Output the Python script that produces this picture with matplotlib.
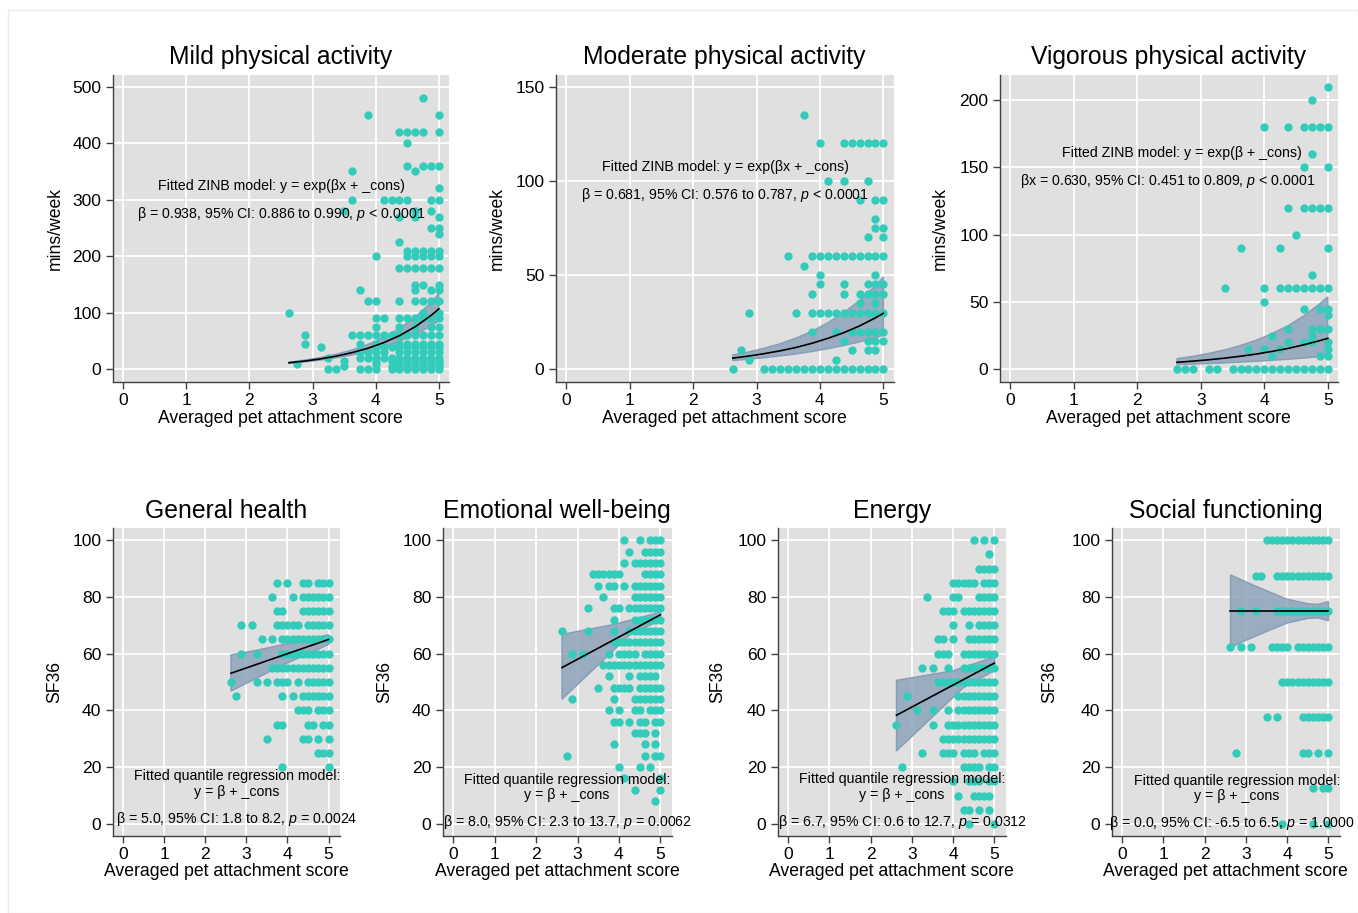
import numpy as np
import matplotlib
matplotlib.use("Agg")
import matplotlib.pyplot as plt
from matplotlib.patches import Rectangle

plt.rcParams['font.family'] = ['Liberation Sans', 'DejaVu Sans']
plt.rcParams['mathtext.fontset'] = 'custom'
plt.rcParams['mathtext.rm'] = 'Liberation Sans'
plt.rcParams['mathtext.it'] = 'Liberation Sans:italic'

# ---------------- data ----------------
# Mild physical activity (mins/week): y level -> attachment scores
mild_levels = [480, 450, 420, 400, 360, 350, 320, 300, 280, 270, 250, 240, 225, 210, 200, 180,
               150, 140, 120, 100, 90, 75, 60, 45, 40, 30, 20, 15, 10, 5, 0]
mild_x = [
    [4.75],
    [3.875, 5],
    [4.375, 4.5, 4.625, 4.75, 5],
    [4.5],
    [4.5, 4.75, 4.875, 5],
    [3.625, 4.625],
    [5],
    [3.625, 4.125, 4.25, 4.375, 4.5, 4.875, 5],
    [3.5, 4.625, 4.875],
    [4.375, 4.625, 5],
    [4.875, 5],
    [5],
    [4.375],
    [4.5, 4.625, 4.75, 4.875, 5],
    [4.0, 4.5, 4.625, 4.75, 4.875, 5],
    [4.375, 4.5, 4.625, 4.75, 4.875, 5],
    [4.625, 4.75, 5],
    [3.75, 4.625, 4.875, 5],
    [3.875, 4.0, 4.375, 4.625, 4.75, 4.875, 5],
    [2.625, 4.75, 5],
    [4.0, 4.125, 4.375, 4.5, 4.625, 4.75, 4.875, 5],
    [4.0, 4.375, 4.625, 4.875, 5],
    [2.875, 3.625, 3.75, 3.875, 4.0, 4.125, 4.25, 4.375, 4.5, 4.625, 4.75, 4.875, 5],
    [2.875, 3.75, 4.0, 4.375, 4.5, 4.625, 4.75, 4.875, 5],
    [3.125, 4.0, 4.125, 4.25, 4.375, 4.5, 4.625, 4.75, 4.875, 5],
    [3.75, 3.875, 4.0, 4.125, 4.375, 4.5, 4.625, 4.75, 4.875, 5],
    [3.25, 3.75, 3.875, 4.0, 4.125, 4.25, 4.375, 4.5, 4.625, 4.75, 4.875, 5],
    [3.5, 4.0, 4.25, 4.375, 4.5, 4.625, 4.75, 4.875, 5],
    [2.75, 4.0, 4.375, 4.5, 4.625, 4.75, 4.875, 5],
    [3.5, 4.25, 4.5, 4.75, 5],
    [3.25, 3.375, 3.75, 3.875, 4.0, 4.25, 4.375, 4.5, 4.625, 4.75, 4.875, 5],
]

# Moderate physical activity
mod_levels = [135, 120, 100, 90, 80, 75, 70, 60, 55, 50, 45, 40, 35, 30, 20, 15, 10, 5, 0]
mod_x = [
    [3.75],
    [4.0, 4.375, 4.5, 4.625, 4.75, 4.875, 5],
    [4.125, 4.375, 4.75],
    [4.625, 4.875, 5],
    [4.875],
    [4.875, 5],
    [4.75, 5],
    [3.5, 3.875, 4.0, 4.125, 4.25, 4.375, 4.5, 4.625, 4.75, 4.875, 5],
    [3.75],
    [4.0, 4.875],
    [4.0, 4.375, 4.75, 4.875, 5],
    [3.875, 4.375, 4.625, 4.75, 4.875, 5],
    [4.625, 4.875],
    [2.875, 3.625, 3.875, 4.0, 4.125, 4.25, 4.375, 4.5, 4.625, 4.75, 4.875, 5],
    [3.875, 4.25, 4.5, 4.625, 4.75, 4.875, 5],
    [4.375, 4.75, 4.875, 5],
    [2.75, 4.5, 4.75, 4.875],
    [2.875, 4.25],
    [2.625, 3.125, 3.25, 3.375, 3.5, 3.625, 3.75, 3.875, 4.0, 4.125, 4.25, 4.375, 4.5,
     4.625, 4.75, 4.875, 5],
]

# Vigorous physical activity
vig_levels = [210, 200, 180, 160, 150, 120, 100, 90, 70, 60, 50, 45, 40, 30, 25, 20, 15, 10, 0]
vig_x = [
    [5],
    [4.75],
    [4.0, 4.375, 4.625, 4.75, 4.875, 5],
    [4.75],
    [4.625, 5],
    [4.375, 4.625, 4.75, 4.875, 5],
    [4.5],
    [3.625, 4.25, 5],
    [4.75],
    [3.375, 4.0, 4.25, 4.375, 4.5, 4.625, 4.75, 4.875, 5],
    [4.0],
    [4.625, 4.875, 5],
    [5],
    [4.375, 4.75, 4.875, 5],
    [4.125, 4.75],
    [4.375, 4.625, 4.75, 5],
    [3.75, 4.0, 4.25, 5],
    [4.125, 4.875, 5],
    [2.625, 2.75, 2.875, 3.125, 3.25, 3.5, 3.625, 3.75, 3.875, 4.0, 4.125, 4.25, 4.375,
     4.5, 4.625, 4.75, 4.875, 5],
]

# General health (SF36)
gh_levels = [85, 80, 75, 70, 65, 60, 55, 50, 45, 40, 35, 30, 25, 20]
gh_x = [
    [3.75, 4.0, 4.375, 4.5, 4.75, 4.875, 5],
    [3.625, 4.125, 4.375, 4.5, 4.625, 4.75, 4.875, 5],
    [3.75, 3.875, 4.375, 4.5, 4.625, 4.75, 4.875, 5],
    [2.875, 3.125, 3.75, 3.875, 4.0, 4.125, 4.25, 4.5, 4.625, 4.75, 4.875, 5],
    [3.375, 3.625, 3.875, 4.0, 4.125, 4.25, 4.375, 4.5, 4.625, 4.75, 4.875, 5],
    [2.875, 3.25, 3.875, 4.0, 4.125, 4.25, 4.375, 4.5, 4.625, 4.75, 4.875, 5],
    [3.625, 3.75, 3.875, 4.0, 4.125, 4.25, 4.375, 4.5, 4.625, 4.75, 4.875, 5],
    [2.625, 3.25, 3.5, 3.75, 3.875, 4.0, 4.25, 4.5, 4.625, 4.75, 4.875, 5],
    [2.75, 3.875, 4.125, 4.375, 4.5, 4.625, 4.75, 4.875, 5],
    [4.25, 4.375, 4.5, 4.75, 4.875, 5],
    [3.75, 3.875, 4.5, 4.625, 4.875, 5],
    [3.5, 4.375, 4.5, 4.75, 5],
    [4.75, 4.875, 5],
    [3.875, 5],
]

# Emotional well-being (SF36)
ew_levels = [100, 96, 92, 88, 84, 80, 76, 72, 68, 64, 60, 56, 52, 48, 44, 40, 36, 32, 28, 24,
             20, 16, 12, 8]
ew_x = [
    [4.125, 4.5, 4.75, 4.875, 5],
    [4.25, 4.625, 4.75, 4.875, 5],
    [4.125, 4.375, 4.5, 4.625, 4.75, 4.875, 5],
    [3.375, 3.5, 3.625, 3.75, 3.875, 4.0, 4.625, 4.75, 4.875, 5],
    [3.5, 3.75, 3.875, 4.125, 4.375, 4.5, 4.625, 4.75, 4.875, 5],
    [3.625, 4.375, 4.5, 4.625, 4.75, 4.875, 5],
    [3.25, 3.875, 4.0, 4.25, 4.375, 4.5, 4.625, 4.75, 4.875, 5],
    [3.875, 4.375, 4.5, 4.625, 4.75, 4.875, 5],
    [2.625, 3.25, 3.875, 4.25, 4.375, 4.5, 4.625, 4.75, 4.875, 5],
    [3.875, 4.0, 4.125, 4.25, 4.375, 4.5, 4.625, 4.75, 4.875, 5],
    [2.875, 3.125, 3.75, 4.0, 4.125, 4.25, 4.375, 4.625, 4.75, 4.875, 5],
    [3.625, 3.75, 3.875, 4.0, 4.125, 4.25, 4.375, 4.5, 4.625, 4.75, 4.875, 5],
    [3.75, 4.25, 4.5, 4.625, 4.75, 4.875],
    [3.5, 3.875, 4.0, 4.125, 4.25, 4.5, 4.625, 4.75, 4.875, 5],
    [2.875, 3.875, 4.375, 4.5, 4.625, 4.75, 4.875, 5],
    [3.75, 4.0, 4.375, 4.5, 4.75, 4.875, 5],
    [3.875, 4.0, 4.25, 4.5, 4.625, 4.875, 5],
    [4.375, 4.5, 4.625, 4.875],
    [3.875, 4.625, 4.875],
    [2.75, 4.625, 4.875, 5],
    [4.0, 4.5, 4.75],
    [4.125, 5],
    [4.375, 5],
    [4.875],
]

# Energy (SF36)
en_levels = [100, 95, 90, 85, 80, 75, 70, 65, 60, 55, 50, 45, 40, 35, 30, 25, 20, 15, 10, 5, 0]
en_x = [
    [4.5, 4.75, 5],
    [4.875],
    [4.625, 4.75, 4.875, 5],
    [4.0, 4.125, 4.25, 4.375, 4.5, 4.75, 4.875, 5],
    [3.375, 4.0, 4.125, 4.625, 4.75, 4.875, 5],
    [3.75, 3.875, 4.0, 4.25, 4.375, 4.5, 4.625, 4.75, 4.875, 5],
    [4.0, 4.375, 4.625, 4.75, 4.875, 5],
    [3.625, 3.75, 4.0, 4.375, 4.5, 4.625, 4.75, 4.875, 5],
    [3.625, 3.75, 3.875, 4.25, 4.375, 4.5, 4.625, 4.75, 4.875, 5],
    [3.25, 3.5, 3.875, 4.25, 4.375, 4.5, 4.625, 4.75, 4.875, 5],
    [3.625, 3.75, 3.875, 4.0, 4.125, 4.25, 4.375, 4.5, 4.625, 4.75, 4.875, 5],
    [2.875, 4.125, 4.25, 4.375, 4.5, 4.625, 4.75, 4.875, 5],
    [3.125, 3.5, 3.875, 4.125, 4.25, 4.375, 4.5, 4.625, 4.75, 4.875, 5],
    [2.625, 3.5, 3.875, 4.0, 4.125, 4.25, 4.375, 4.5, 4.625, 4.75, 4.875, 5],
    [3.75, 3.875, 4.0, 4.125, 4.25, 4.375, 4.5, 4.625, 4.75, 4.875, 5],
    [3.25, 3.75, 3.875, 4.0, 4.25, 4.375, 4.5, 4.75, 4.875, 5],
    [2.75, 4.25, 4.375, 4.5, 4.625, 4.875, 5],
    [4.0, 4.375, 4.5, 4.625, 4.875, 5],
    [4.125, 4.5, 4.625, 4.75, 4.875],
    [4.25, 4.375, 4.625, 4.875],
    [4.375, 5],
]

# Social functioning (SF36)
sf_levels = [100, 87.5, 75, 62.5, 50, 37.5, 25, 12.5, 0]
sf_x = [
    [3.5, 3.625, 3.75, 3.875, 4.0, 4.125, 4.25, 4.375, 4.5, 4.625, 4.75, 4.875, 5],
    [3.25, 3.375, 3.75, 3.875, 4.0, 4.125, 4.25, 4.375, 4.5, 4.625, 4.75, 4.875, 5],
    [2.875, 3.25, 3.75, 3.875, 4.0, 4.125, 4.25, 4.375, 4.5, 4.625, 4.75, 4.875, 5],
    [2.625, 2.875, 3.125, 3.625, 3.75, 3.875, 4.0, 4.25, 4.375, 4.5, 4.625, 4.75, 4.875, 5],
    [3.875, 4.0, 4.125, 4.25, 4.375, 4.5, 4.625, 4.75, 4.875, 5],
    [3.5, 3.75, 4.375, 4.5, 4.625, 4.75, 4.875, 5],
    [2.75, 4.375, 4.5, 4.75, 5],
    [4.625, 4.875, 5],
    [3.875, 4.625, 5],
]

# Fitted curves and confidence bands
zinb_x = [2.625, 2.875, 3.125, 3.375, 3.625, 3.875, 4.125, 4.375, 4.625, 4.875, 5.0]
mild_fit = [11.5, 14.6, 18.4, 23.3, 29.5, 37.2, 47.1, 59.5, 75.3, 95.2, 107.0]
mild_hi = [12.7, 16.4, 20.9, 26.8, 34.3, 43.9, 56.3, 72.0, 92.3, 118.2, 133.8]
mild_lo = [10.4, 13.0, 16.2, 20.3, 25.3, 31.5, 39.4, 49.2, 61.4, 76.7, 85.6]
mod_fit = [5.9, 7.0, 8.3, 9.8, 11.6, 13.8, 16.4, 19.4, 23.0, 27.3, 29.7]
mod_hi = [7.6, 9.2, 11.2, 13.6, 16.6, 20.2, 24.7, 30.0, 36.5, 44.4, 49.0]
mod_lo = [4.6, 5.3, 6.1, 7.1, 8.1, 9.4, 10.9, 12.6, 14.5, 16.8, 18.0]
vig_fit = [5.15, 6.03, 7.06, 8.26, 9.67, 11.3, 13.3, 15.5, 18.2, 21.3, 23.0]
vig_hi = [7.9, 9.6, 11.8, 14.4, 17.7, 21.6, 26.6, 32.4, 39.8, 48.8, 53.8]
vig_lo = [3.4, 3.8, 4.2, 4.7, 5.3, 5.9, 6.6, 7.4, 8.3, 9.3, 9.8]

qr_line_x = [2.625, 5.0]
gh_line = [53.1, 65.0]
gh_hi_x, gh_hi = [2.625, 3.25, 5.0], [59.6, 61.2, 66.7]
gh_lo_x, gh_lo = [2.625, 3.875, 5.0], [46.8, 55.9, 63.2]
ew_line = [55.1, 73.7]
ew_hi_x, ew_hi = [2.625, 3.875, 5.0], [66.8, 70.3, 74.6]
ew_lo_x, ew_lo = [2.625, 4.25, 5.0], [43.9, 66.5, 71.8]
en_line = [38.3, 56.7]
en_hi_x, en_hi = [2.625, 4.0, 5.0], [50.6, 54.0, 58.9]
en_lo_x, en_lo = [2.625, 4.25, 5.0], [25.7, 48.0, 54.0]
sf_line = [75.0, 75.0]
sf_band_x = [2.625, 3.0, 3.5, 4.0, 4.5, 4.75, 5.0]
sf_hi = [87.8, 85.3, 82.2, 79.2, 77.6, 77.4, 78.4]
sf_lo = [62.2, 64.7, 67.8, 70.8, 72.4, 72.6, 71.6]

x_ticks = [0, 1, 2, 3, 4, 5]
titles = ["Mild physical activity", "Moderate physical activity", "Vigorous physical activity",
          "General health", "Emotional well-being", "Energy", "Social functioning"]
xlabel = "Averaged pet attachment score"
ylab_top = "mins/week"
ylab_bot = "SF36"
zinb_line1 = ["Fitted ZINB model: y = exp(\u03b2x + _cons)",
              "Fitted ZINB model: y = exp(\u03b2x + _cons)",
              "Fitted ZINB model: y = exp(\u03b2 + _cons)"]
zinb_line2 = ["\u03b2 = 0.938, 95% CI: 0.886 to 0.990, $p$ < 0.0001",
              "\u03b2 = 0.681, 95% CI: 0.576 to 0.787, $p$ < 0.0001",
              "\u03b2x = 0.630, 95% CI: 0.451 to 0.809, $p$ < 0.0001"]
qr_line1 = "Fitted quantile regression model:"
qr_line2 = "y = \u03b2 + _cons"
qr_line3 = ["\u03b2 = 5.0, 95% CI: 1.8 to 8.2, $p$ = 0.0024",
            "\u03b2 = 8.0, 95% CI: 2.3 to 13.7, $p$ = 0.0062",
            "\u03b2 = 6.7, 95% CI: 0.6 to 12.7, $p$ = 0.0312",
            "\u03b2 = 0.0, 95% CI: -6.5 to 6.5, $p$ = 1.0000"]

# ---------------- style ----------------
W, H = 1358, 913
DOT = '#33ccbb'
BAND_FACE = '#8da3bb'
BAND_EDGE = '#7f97b2'
BG = '#e0e0e0'

fig = plt.figure(figsize=(W / 100, H / 100), dpi=100)
fig.patches.append(Rectangle((8 / W, 0), 1 - 8 / W, 1 - 10 / H, transform=fig.transFigure,
                             fill=False, edgecolor='#ececec', linewidth=1))


def px_axes(l, t, r, b):
    return fig.add_axes([l / W, 1 - b / H, (r - l) / W, (b - t) / H])


def style(ax, xlim, ylim, yticks, title, ylab, l, t, r, b, ylab_x, title_y, xlab_y):
    ax.set_facecolor(BG)
    ax.set_xlim(*xlim)
    ax.set_ylim(*ylim)
    ax.set_xticks(x_ticks)
    ax.set_yticks(yticks)
    ax.grid(True, color='white', linewidth=1.3)
    ax.set_axisbelow(True)
    for s in ['top', 'right']:
        ax.spines[s].set_visible(False)
    for s in ['left', 'bottom']:
        ax.spines[s].set_color('#404040')
        ax.spines[s].set_linewidth(1.0)
    ax.tick_params(direction='out', length=5, width=1, color='#404040', labelsize=12.6,
                   labelcolor='black', pad=3)
    wpx, hpx = r - l, b - t
    ax.text(0.5, (b - title_y) / hpx, title, transform=ax.transAxes, ha='center', va='center',
            fontsize=17.8)
    ax.text(0.5, (b - xlab_y) / hpx, xlabel, transform=ax.transAxes, ha='center', va='center',
            fontsize=12.7)
    ax.text((ylab_x - l) / wpx, 0.5, ylab, transform=ax.transAxes, ha='center', va='center',
            rotation=90, fontsize=12.7)


def scatter(ax, levels, xs):
    px = [x for row in xs for x in row]
    py = [lv for lv, row in zip(levels, xs) for _ in row]
    ax.scatter(px, py, s=36, color=DOT, linewidths=0, zorder=3, clip_on=False)


def band(ax, hx, hy, lx, ly):
    poly_x = list(hx) + list(lx)[::-1]
    poly_y = list(hy) + list(ly)[::-1]
    ax.fill(poly_x, poly_y, facecolor=BAND_FACE, edgecolor=BAND_EDGE, linewidth=1.0,
            alpha=0.85, zorder=2)


def ftext(x, y, s, size=10.2):
    fig.text(x / W, 1 - y / H, s, ha='center', va='center', fontsize=size)


# ---- top row ----
top_rects = [(112.5, 75, 449, 381.5), (555.5, 75, 893.5, 381.5), (999.5, 75, 1338, 381.5)]
top_xlim = (-0.17, 5.16)
top_ylims = [(-21.6, 520.7), (-6.5, 156.2), (-9.1, 218.6)]
top_yticks = [[0, 100, 200, 300, 400, 500], [0, 50, 100, 150], [0, 50, 100, 150, 200]]
top_levels = [mild_levels, mod_levels, vig_levels]
top_x = [mild_x, mod_x, vig_x]
top_fit = [mild_fit, mod_fit, vig_fit]
top_hi = [mild_hi, mod_hi, vig_hi]
top_lo = [mild_lo, mod_lo, vig_lo]
top_ylab_x = [55, 497, 940]
top_text_cx = [(281, 281), (725, 725), (1182, 1168)]
top_text_y = [(186, 214), (167, 195), (153, 181)]

for i in range(3):
    l, t, r, b = top_rects[i]
    ax = px_axes(l, t, r, b)
    style(ax, top_xlim, top_ylims[i], top_yticks[i], titles[i], ylab_top, l, t, r, b,
          top_ylab_x[i], 57, 418)
    scatter(ax, top_levels[i], top_x[i])
    band(ax, zinb_x, top_hi[i], zinb_x, top_lo[i])
    ax.plot(zinb_x, top_fit[i], color='black', linewidth=1.2, zorder=4)
    ftext(top_text_cx[i][0], top_text_y[i][0], zinb_line1[i])
    ftext(top_text_cx[i][1], top_text_y[i][1], zinb_line2[i])

# ---- bottom row ----
bot_rects = [(112.5, 528, 340, 835.5), (442.5, 528, 672, 835.5), (777.5, 528, 1006, 835.5),
             (1111.5, 528, 1340, 835.5)]
bot_xlim = (-0.26, 5.28)
bot_ylim = (-4.1, 104.3)
bot_yticks = [0, 20, 40, 60, 80, 100]
bot_levels = [gh_levels, ew_levels, en_levels, sf_levels]
bot_x = [gh_x, ew_x, en_x, sf_x]
bot_line = [gh_line, ew_line, en_line, sf_line]
bot_band = [(gh_hi_x, gh_hi, gh_lo_x, gh_lo), (ew_hi_x, ew_hi, ew_lo_x, ew_lo),
            (en_hi_x, en_hi, en_lo_x, en_lo), (sf_band_x, sf_hi, sf_band_x, sf_lo)]
bot_ylab_x = [55, 385, 718, 1050]
bot_text_cx = [237, 567, 902, 1237]
bot_text_cx3 = [237, 567, 902, 1232]
bot_text_y = [(776, 792, 819), (780, 795, 822), (779, 795, 822), (781, 796, 823)]

for i in range(4):
    l, t, r, b = bot_rects[i]
    ax = px_axes(l, t, r, b)
    style(ax, bot_xlim, bot_ylim, bot_yticks, titles[3 + i], ylab_bot, l, t, r, b,
          bot_ylab_x[i], 511, 871)
    scatter(ax, bot_levels[i], bot_x[i])
    band(ax, *bot_band[i])
    ax.plot(qr_line_x, bot_line[i], color='black', linewidth=1.2, zorder=4)
    y1, y2, y3 = bot_text_y[i]
    ftext(bot_text_cx[i], y1, qr_line1)
    ftext(bot_text_cx[i], y2, qr_line2)
    ftext(bot_text_cx3[i], y3, qr_line3[i])

fig.savefig("out.png", dpi=100, facecolor='white')
